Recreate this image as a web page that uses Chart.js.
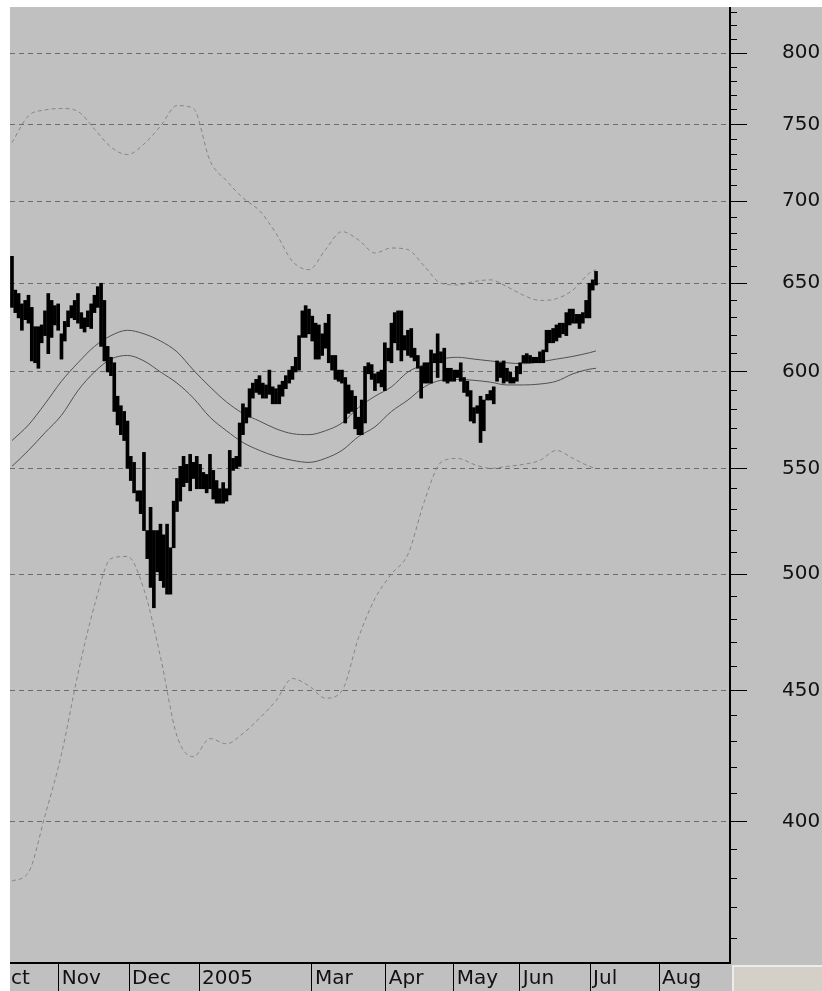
<!DOCTYPE html>
<html>
<head>
<meta charset="utf-8">
<script src="https://cdn.jsdelivr.net/npm/chart.js@4.4.1/dist/chart.umd.min.js"></script>
<style>
  html, body { margin: 0; padding: 0; background: #fff; }
  body { width: 822px; height: 991px; position: relative; overflow: hidden; }
  #chart { position: absolute; left: 10px; top: 7px; background: #c0c0c0; }
  #corner { position: absolute; left: 732px; top: 965px; width: 90px; height: 26px; box-sizing: border-box;
            background: #d4d0c8; border-top: 2px solid #ececec; border-left: 2px solid #ececec; }
</style>
</head>
<body>
<canvas id="chart" width="812" height="984"></canvas>
<div id="corner"></div>
<script>
// daily high / low, one entry per trading day (Oct 2004 - Jul 2005)
const highs = [
  666, 646, 644, 638, 640, 643, 636, 625, 625, 626, 634, 644, 640, 637, 638, 621, 628, 634, 637, 640,
  644, 633, 630, 634, 638, 643, 648, 650, 640, 614, 608, 605, 587, 582, 579, 574, 556, 553, 539, 539,
  558, 520, 531, 520, 520, 523, 518, 523, 512, 534, 545, 551, 556, 552, 557, 553, 556, 552, 548, 547,
  557, 549, 544, 540, 543, 540, 559, 555, 556, 573, 583, 581, 591, 594, 596, 598, 594, 593, 601, 592,
  591, 593, 595, 598, 601, 603, 608, 620, 634, 637, 635, 631, 627, 626, 621, 627, 632, 609, 609, 601,
  601, 597, 593, 590, 587, 576, 585, 603, 605, 604, 599, 600, 601, 616, 613, 627, 633, 634, 634, 620,
  623, 624, 613, 609, 603, 605, 605, 612, 610, 621, 611, 613, 602, 602, 601, 601, 605, 597, 595, 590,
  581, 582, 587, 585, 588, 590, 592, 606, 605, 606, 602, 600, 597, 603, 605, 609, 610, 609, 608, 608,
  611, 612, 623, 623, 624, 626, 627, 627, 633, 635, 635, 632, 632, 633, 640, 650, 652, 657
];
const lows = [
  636, 633, 630, 623, 629, 627, 606, 605, 602, 616, 620, 610, 619, 626, 623, 607, 617, 625, 630, 629,
  627, 624, 622, 625, 624, 633, 636, 614, 606, 600, 598, 579, 572, 567, 564, 550, 544, 538, 534, 528,
  520, 507, 494, 485, 501, 497, 494, 491, 491, 512, 529, 534, 541, 543, 539, 545, 540, 540, 540, 538,
  540, 535, 533, 533, 533, 534, 537, 549, 550, 551, 567, 573, 576, 586, 589, 588, 586, 586, 588, 583,
  583, 583, 587, 591, 594, 596, 600, 601, 619, 619, 621, 617, 607, 607, 609, 613, 605, 601, 596, 595,
  594, 573, 578, 579, 570, 567, 567, 573, 599, 596, 590, 594, 592, 590, 606, 605, 616, 612, 606, 612,
  609, 608, 606, 602, 586, 594, 594, 594, 605, 597, 605, 595, 594, 595, 595, 597, 595, 589, 587, 574,
  573, 578, 563, 569, 585, 585, 583, 595, 597, 594, 595, 594, 594, 595, 599, 605, 605, 605, 605, 605,
  605, 605, 611, 616, 616, 617, 619, 621, 620, 626, 627, 627, 624, 627, 630, 630, 646, 649
];

// indicator lines, sampled every 5 trading days
const lineDays   = [0, 5, 10, 15, 20, 25, 30, 35, 40, 45, 50, 55, 60, 65, 70, 75, 80, 85, 90,
                    95, 100, 105, 110, 115, 120, 125, 130, 135, 140, 145, 150, 155, 160, 165, 170, 175, 177];
const maUpper    = [564, 572, 583, 595, 605, 614, 620, 623, 621, 617, 611, 601, 592, 584, 578, 574, 570, 567.5, 567,
                    569, 573, 581, 587, 592, 600, 604, 607, 608, 607, 606, 605, 604.5, 605.5, 607, 608.5, 610.5, 611.5];
const maLower    = [551, 559, 568, 577, 590, 600, 607, 609, 606, 600, 594, 586, 576, 569, 563, 559, 556, 554, 553,
                    555, 559, 566, 571, 579, 585, 592, 595.5, 596, 595.5, 594.5, 593, 593, 593.5, 595, 599, 601.5, 602];
const bandUpper  = [738, 756, 760, 761, 759, 747, 735, 730, 737, 749, 763, 761, 726, 713, 702, 694, 680, 663, 658,
                    670, 681, 676, 668, 671, 670, 660, 650, 649, 651, 652, 648, 643, 640, 641, 646, 656, 658];
const bandLower  = [379, 382, 402, 425, 457, 486, 507, 508, 493, 464, 432, 424, 431, 429, 433, 439, 446, 455, 452,
                    447, 450, 472, 489, 500, 509, 534, 553, 555, 552, 550, 551, 552, 554, 559, 555, 551, 550];

// month separators on the trading-day axis
const monthDays   = [-6, 14.2, 35.5, 56.7, 90.9, 113.3, 133.9, 153.9, 175.2, 196.1];
const monthLabels = ['Oct', 'Nov', 'Dec', '2005', 'Mar', 'Apr', 'May', 'Jun', 'Jul', 'Aug'];

const priceTicks = [400, 450, 500, 550, 600, 650, 700, 750, 800];
const minorTicks = [360, 370, 380, 390, 400, 410, 420, 430, 440, 450, 460, 470, 480, 490, 500, 510,
                    520, 530, 540, 550, 560, 570, 580, 590, 600, 610, 620, 630, 640, 650, 660, 670,
                    680, 690, 700, 710, 720, 730, 740, 750, 760, 770, 780, 790, 800, 810, 820, 830];

const bars = highs.map((h, i) => ({ x: i, y: [lows[i], h] }));
const pts = arr => arr.map((v, i) => ({ x: lineDays[i], y: v }));

const lineSet = (data, color, dash) => ({
    type: 'line',
    data: pts(data),
    borderColor: color,
    borderWidth: 1,
    borderDash: dash,
    pointRadius: 0,
    fill: false,
    cubicInterpolationMode: 'monotone'
});

// keep the plot flush with the canvas edges
const noPad = s => { s.paddingTop = 0; s.paddingBottom = 0; s.paddingLeft = 0; s.paddingRight = 0; };

const ctx = document.getElementById('chart').getContext('2d');
const chart = new Chart(ctx, {
    type: 'bar',
    data: {
        datasets: [
            {
                data: bars,
                backgroundColor: '#000',
                borderWidth: 0,
                barThickness: 3,
                grouped: false,
                order: 0
            },
            lineSet(maUpper, '#505050', []),
            lineSet(maLower, '#505050', []),
            lineSet(bandUpper, '#858585', [4, 3]),
            lineSet(bandLower, '#858585', [4, 3])
        ]
    },
    options: {
        responsive: false,
        animation: false,
        layout: { padding: 0 },
        plugins: { legend: { display: false }, tooltip: { enabled: false } },
        scales: {
            x: {
                type: 'linear',
                min: -0.6,
                max: 217.6,
                offset: false,
                afterBuildTicks: s => { s.ticks = monthDays.map(v => ({ value: v })); },
                afterFit: s => { s.height = 28; noPad(s); },
                grid: { offset: false, drawOnChartArea: false, tickLength: 28, tickColor: '#000', tickWidth: 1 },
                border: { color: '#000', width: 2 },
                ticks: {
                    autoSkip: false,
                    maxRotation: 0,
                    align: 'start',
                    labelOffset: 3,
                    padding: -24,
                    color: '#111',
                    font: { family: 'DejaVu Sans', size: 20 },
                    callback: (v, i) => monthLabels[i]
                }
            },
            y2: {
                type: 'logarithmic',
                position: 'right',
                min: 352,
                max: 834,
                weight: 0,
                afterBuildTicks: s => { s.ticks = minorTicks.map(v => ({ value: v })); },
                afterFit: s => { s.width = 0; noPad(s); },
                grid: { drawOnChartArea: false, tickLength: 7, tickColor: '#000', tickWidth: 1 },
                border: { display: false },
                ticks: { display: false, autoSkip: false }
            },
            y: {
                type: 'logarithmic',
                position: 'right',
                min: 352,
                max: 834,
                beginAtZero: false,
                weight: 1,
                afterBuildTicks: s => { s.ticks = priceTicks.map(v => ({ value: v })); },
                afterFit: s => { s.width = 92; noPad(s); },
                grid: { color: '#6c6c6c', lineWidth: 1, tickLength: 17, tickColor: '#000', tickWidth: 1, tickBorderDash: [] },
                border: { color: '#000', width: 2, dash: [5, 4] },
                ticks: {
                    autoSkip: false,
                    padding: 35,
                    color: '#111',
                    font: { family: 'DejaVu Sans', size: 20 },
                    callback: v => String(v)
                }
            }
        }
    }
});
</script>
</body>
</html>
